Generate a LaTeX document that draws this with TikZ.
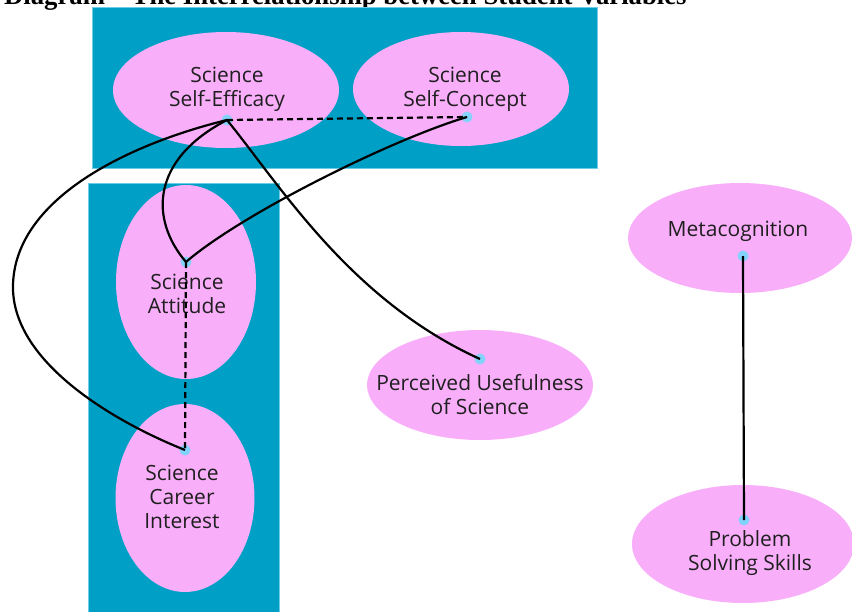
\documentclass[tikz,border=0pt]{standalone}
\usepackage{fontspec}
\setmainfont{Open Sans}
\newfontfamily\titlefont{Liberation Serif}
\usetikzlibrary{shapes.geometric}
\definecolor{panelblue}{RGB}{0,160,198}
\definecolor{paneledge}{RGB}{110,205,230}
\definecolor{pinkfill}{RGB}{249,174,250}
\definecolor{dotblue}{RGB}{130,210,250}
\tikzset{
  panel/.style={fill=panelblue, draw=paneledge, line width=1pt},
  oval/.style={ellipse, fill=pinkfill, draw=none, inner sep=0pt},
  lbl/.style={align=center, font=\fontsize{21}{24}\selectfont, text=black!88},
  dotnode/.style={circle, fill=dotblue, minimum size=11pt, inner sep=0pt},
  link/.style={line width=2.2pt, black},
  dlink/.style={line width=2.2pt, black, dash pattern=on 6pt off 4pt}
}
\begin{document}
\begin{tikzpicture}[x=1pt,y=-1pt]
\useasboundingbox (0,0) rectangle (852,611);
\clip (0,0) rectangle (852,611);
% title (cut off at the top, as in the original)
\node[anchor=base west, inner sep=0pt, font=\titlefont\bfseries\fontsize{26.7}{30}\selectfont] (title) at (4,4) {Diagram – The Interrelationship between Student Variables};
% panels
\node[panel, minimum width=505pt, minimum height=161pt, inner sep=0pt] (toppanel) at (344.5,87.5) {};
\node[panel, minimum width=191pt, minimum height=440pt, inner sep=0pt] (leftpanel) at (183.5,403) {};
% ellipses
\node[oval, minimum width=226pt, minimum height=116pt] (se) at (226,90) {};
\node[oval, minimum width=216pt, minimum height=114pt] (sc) at (461,89) {};
\node[oval, minimum width=140pt, minimum height=194pt] (sa) at (186,282) {};
\node[oval, minimum width=139pt, minimum height=188pt] (ci) at (185,498) {};
\node[oval, minimum width=226pt, minimum height=110pt] (pu) at (480,385) {};
\node[oval, minimum width=224pt, minimum height=110pt] (mc) at (740,238) {};
\node[oval, minimum width=222pt, minimum height=118pt] (ps) at (743,544) {};
% labels
\node[lbl] (tse) at (227,89) {Science\\Self-Efficacy};
\node[lbl] (tsc) at (465,89) {Science\\Self-Concept};
\node[lbl] (tsa) at (187,294) {Science\\Attitude};
\node[lbl] (tci) at (182,497) {Science\\Career\\Interest};
\node[lbl] (tpu) at (480,395) {Perceived Usefulness\\of Science};
\node[lbl] (tmc) at (738,231) {Metacognition};
\node[lbl] (tps) at (750,553) {Problem\\Solving Skills};
% dots
\node[dotnode] (dse) at (227,120) {};
\node[dotnode] (dsc) at (467,117) {};
\node[dotnode] (dsa) at (186,262) {};
\node[dotnode] (dci) at (185,450) {};
\node[dotnode] (dpu) at (480,359) {};
\node[dotnode] (dmc) at (743,256) {};
\node[dotnode] (dps) at (744,520) {};
% connectors
\draw[dlink] (dse.center) -- (dsc.center);
\draw[dlink] (dsa.center) -- (dci.center);
\draw[link] (dmc.center) -- (dps.center);
\draw[link] (dse.center) .. controls (280,185) and (350,300) .. (dpu.center);
\draw[link] (dse.center) .. controls (150,160) and (150,220) .. (dsa.center);
\draw[link] (dsc.center) .. controls (390,140) and (240,215) .. (dsa.center);
\draw[link] (dse.center) .. controls (125,145) and (15,200) .. (13,285)
  .. controls (11,360) and (110,420) .. (dci.center);
\end{tikzpicture}
\end{document}
